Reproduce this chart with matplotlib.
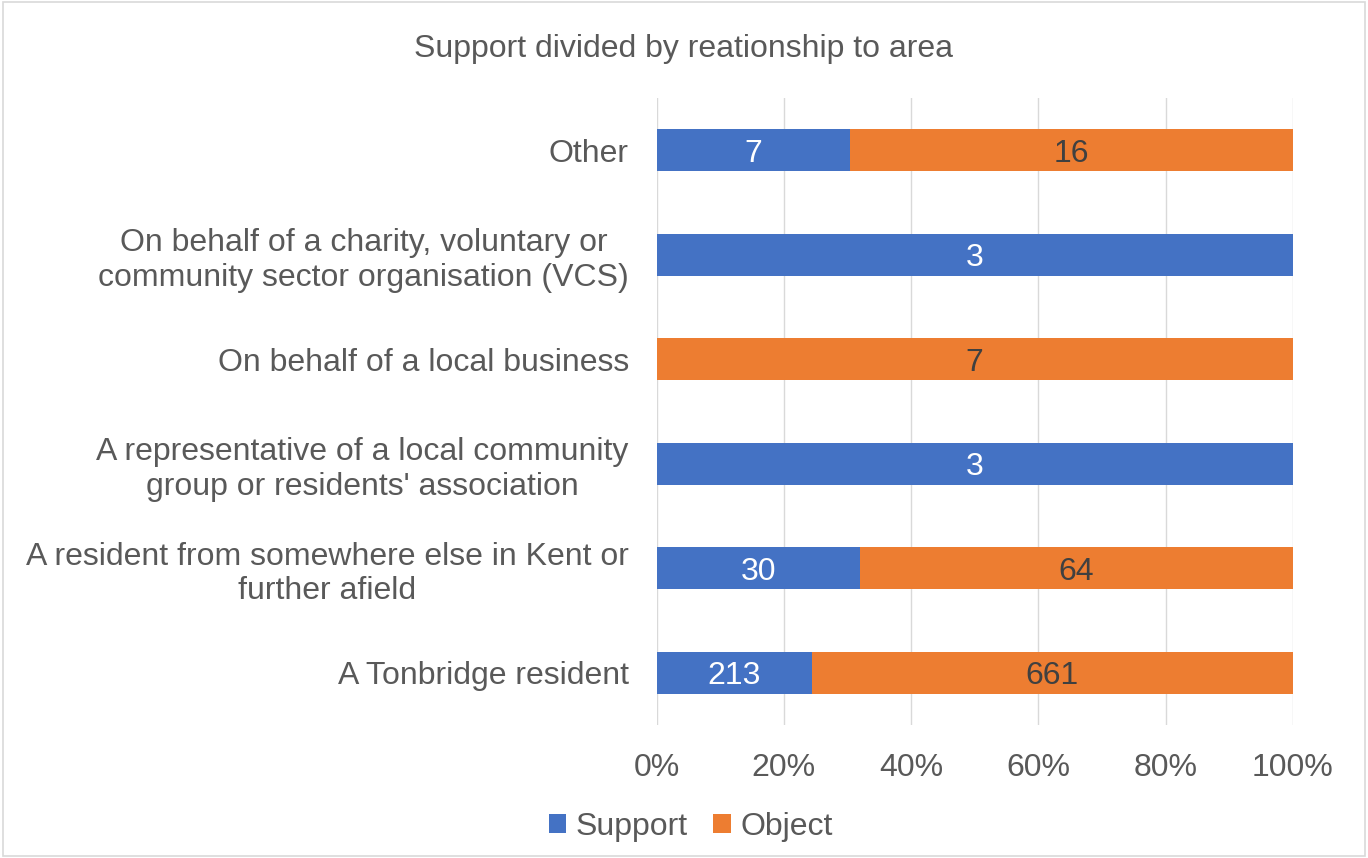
import numpy as np
import matplotlib
matplotlib.use("Agg")
from matplotlib import pyplot as plt
from matplotlib.patches import Rectangle

plt.rcParams['font.family'] = ['Liberation Sans', 'DejaVu Sans']

# categories bottom to top
categories = [
    "A Tonbridge resident",
    "A resident from somewhere else in Kent or\nfurther afield",
    "A representative of a local community\ngroup or residents' association",
    "On behalf of a local business",
    "On behalf of a charity, voluntary or\ncommunity sector organisation (VCS)",
    "Other",
]
support = np.array([213, 30, 3, 0, 3, 7])
objects = np.array([661, 64, 0, 7, 0, 16])
xticks = [0, 20, 40, 60, 80, 100]

blue = "#4472C4"
orange = "#ED7D31"
txt = "#595959"

total = support + objects
sup_pct = support / total * 100
obj_pct = objects / total * 100

fig = plt.figure(figsize=(13.68, 8.58), dpi=100)
ax = fig.add_axes([0.480, 0.155, 0.465, 0.731])

y = np.arange(len(categories))
h = 0.4
ax.barh(y, sup_pct, height=h, color=blue, label="Support")
ax.barh(y, obj_pct, height=h, left=sup_pct, color=orange, label="Object")

# data labels
for i in y:
    if support[i] > 0:
        ax.text(sup_pct[i] / 2, i, str(support[i]), ha='center', va='center_baseline',
                color='white', fontsize=23)
    if objects[i] > 0:
        ax.text(sup_pct[i] + obj_pct[i] / 2, i, str(objects[i]), ha='center',
                va='center_baseline', color='#404040', fontsize=23)

ax.set_xlim(0, 100)
ax.set_ylim(-0.5, 5.5)
ax.set_xticks(xticks)
ax.set_xticklabels([f"{v}%" for v in xticks])
ax.set_yticks(y)
ax.set_yticklabels(categories, linespacing=1.2)
for lab in ax.get_yticklabels():
    lab.set_multialignment('center')
ax.tick_params(axis='both', length=0, labelsize=23, colors=txt)
ax.tick_params(axis='x', pad=20)
ax.tick_params(axis='y', pad=20)
ax.grid(axis='x', color='#D9D9D9', linewidth=1)
ax.set_axisbelow(True)
for s in ax.spines.values():
    s.set_visible(False)

fig.text(0.5, 0.943, "Support divided by reationship to area", ha='center',
         va='center', fontsize=23, color=txt)

fig.legend(loc='center', bbox_to_anchor=(0.505, 0.036), ncol=2, frameon=False,
           fontsize=23, handlelength=0.55, handleheight=0.55, handletextpad=0.3,
           columnspacing=0.8, labelcolor=txt)

fig.patches.append(Rectangle((0.002, 0.002), 0.996, 0.996, transform=fig.transFigure,
                             fill=False, edgecolor='#D9D9D9', linewidth=1.2))

fig.savefig("out.png", dpi=100)
